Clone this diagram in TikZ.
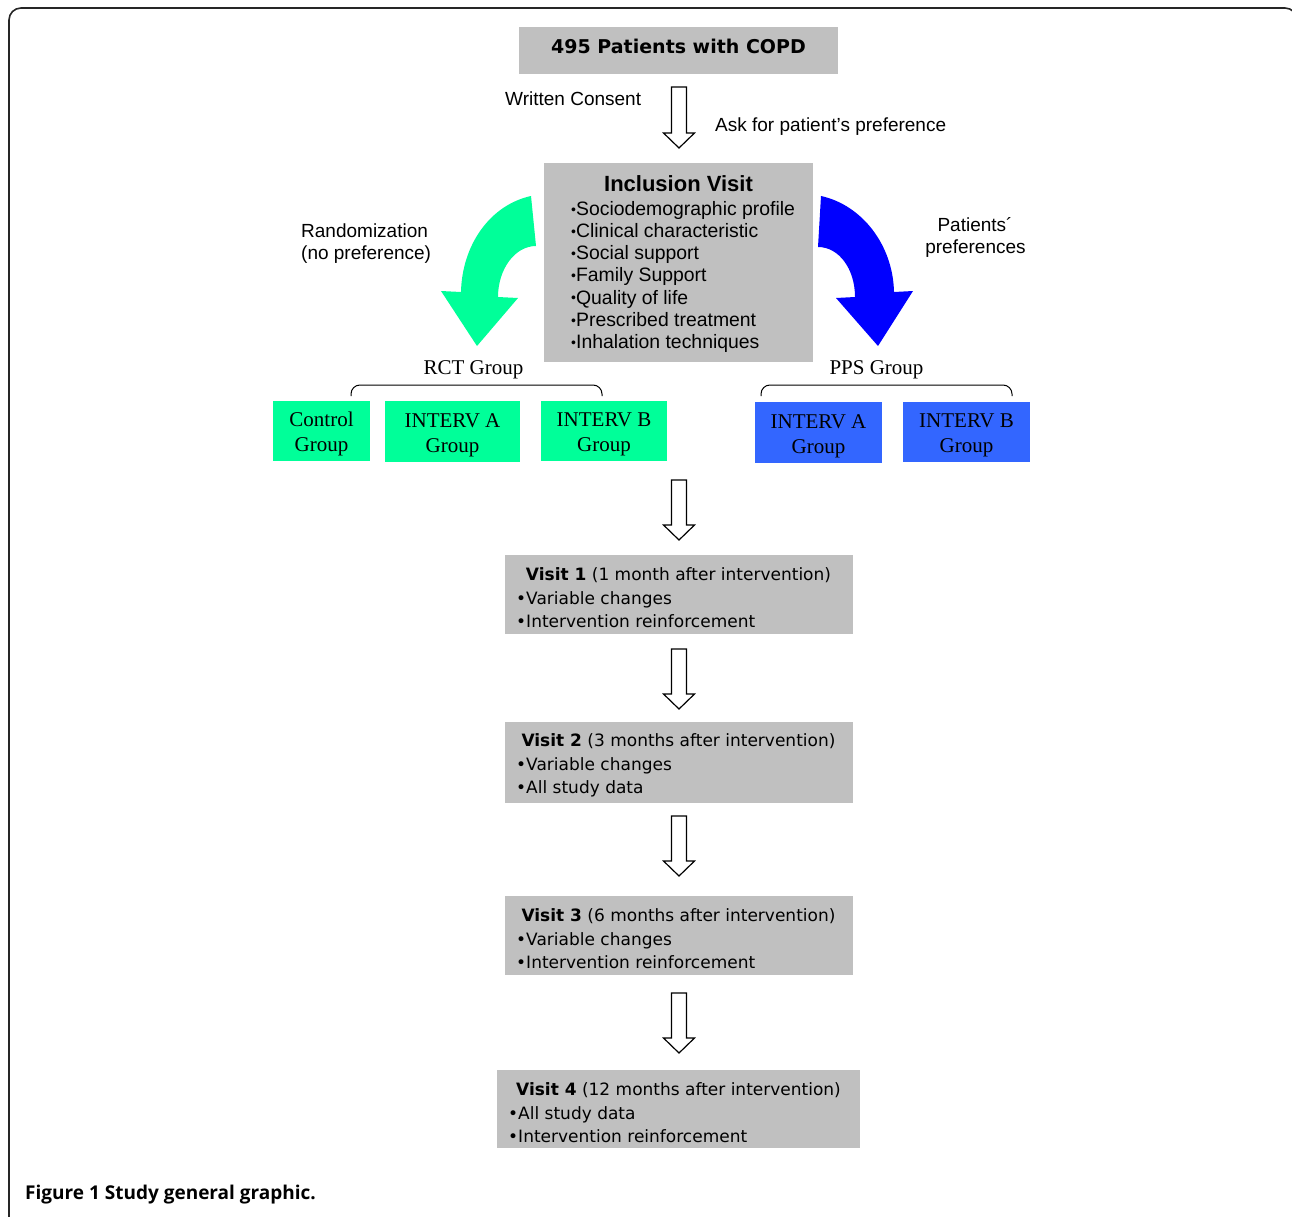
\documentclass[tikz,border=0pt]{standalone}
\usepackage{fontspec}
\setmainfont{Liberation Serif}
\newfontfamily\verd{DejaVu Sans}
\newfontfamily\arialf{Liberation Sans}
\newfontfamily\capfont{Open Sans}
\usetikzlibrary{calc}
\definecolor{boxgray}{RGB}{192,192,192}
\definecolor{rctgreen}{RGB}{0,255,153}
\definecolor{ppsblue}{RGB}{51,102,255}
\definecolor{arrowblue}{RGB}{0,0,255}
\tikzset{
  graybox/.style={fill=boxgray, inner sep=0pt, outer sep=0pt},
  grpbox/.style={inner sep=0pt, align=center, font=\fontsize{21}{25}\selectfont, text=black},
  rctbox/.style={grpbox, fill=rctgreen},
  ppsbox/.style={grpbox, fill=ppsblue},
  vtxt/.style={font=\verd\fontsize{17}{23.5}\selectfont, inner sep=0pt},
  itxt/.style={font=\arialf\fontsize{19.4}{22.2}\selectfont, inner sep=0pt, anchor=base west},
  lbl/.style={font=\arialf\fontsize{19}{22.2}\selectfont, inner sep=0pt},
  tlbl/.style={font=\fontsize{21}{25}\selectfont, inner sep=0pt, anchor=base},
  bracestyle/.style={draw=black, line width=1pt, rounded corners=9pt},
  blockarrow/.style={draw=black, fill=white, line width=1.2pt, line join=miter,
    to path={let \p1=(\tikztostart), \p2=(\tikztotarget) in
      (\x1-7.5pt,\y1) -- (\x1+7.5pt,\y1) -- (\x1+7.5pt,\y2+15pt) -- (\x1+15.5pt,\y2+15pt)
      -- (\x2,\y2) -- (\x1-15.5pt,\y2+15pt) -- (\x1-7.5pt,\y2+15pt) -- cycle}},
}
\newcommand\ibul{{\fontsize{14}{14}\selectfont\raisebox{1.2pt}{•}}}
\newcommand\gstrut{\rule{0pt}{21pt}}
\begin{document}
\begin{tikzpicture}[x=1pt,y=-1pt]
\clip (0,0) rectangle (1292,1217);
% frame
\draw[line width=1.6pt, black!85, rounded corners=12pt] (9,1300) -- (9,8) -- (1297,8) -- (1297,1300);

% top box
\node[graybox, minimum width=319, minimum height=47] (pat) at (678.5,50.5) {};
\node[font=\verd\bfseries\fontsize{19}{22}\selectfont, inner sep=0pt, anchor=base] (pattxt) at (678.5,53.5) {495 Patients with COPD};

\coordinate (a1s) at (679,87); \coordinate (a1e) at (679,148);
\draw[blockarrow] (a1s) to (a1e);
\node[lbl, anchor=base west] (wc) at (505,106) {Written Consent};
\node[lbl, anchor=base west] (ask) at (715,132) {Ask for patient’s preference};

% inclusion visit
\node[graybox, minimum width=269, minimum height=199] (incl) at (678.5,262.5) {};
\node[font=\arialf\bfseries\fontsize{22}{25}\selectfont, inner sep=0pt, anchor=base] (incltitle) at (678.5,191) {Inclusion Visit};
\node[itxt] (i1) at (571,215.3) {\ibul Sociodemographic profile};
\node[itxt] (i2) at (571,237.5) {\ibul Clinical characteristic};
\node[itxt] (i3) at (571,259.7) {\ibul Social support};
\node[itxt] (i4) at (571,281.9) {\ibul Family Support};
\node[itxt] (i5) at (571,304.1) {\ibul Quality of life};
\node[itxt] (i6) at (571,326.3) {\ibul Prescribed treatment};
\node[itxt] (i7) at (571,348.5) {\ibul Inhalation techniques};

% curved arrows
\fill[rctgreen] (531,196) .. controls (490,205) and (462,245) .. (461,292) -- (441,291) -- (477,346) -- (518,298) -- (498,297)
  .. controls (498,269) and (515,246) .. (536,246) -- cycle;
\fill[arrowblue] (821,196) .. controls (862,205) and (893,245) .. (894,292) -- (913,291) -- (878,346) -- (836,298) -- (855,297)
  .. controls (855,269) and (839,247) .. (818,247) -- cycle;
\node[lbl, anchor=base west] (rand) at (301,237) {Randomization};
\node[lbl, anchor=base west] (nopref) at (301,259) {(no preference)};
\node[lbl, anchor=base] (ppref1) at (975,231.5) {Patients´};
\node[lbl, anchor=base] (ppref2) at (975.5,253.5) {preferences};

% groups
\node[tlbl] (rctl) at (473.5,374) {RCT Group};
\node[tlbl] (ppsl) at (876.5,374) {PPS Group};
\draw[bracestyle] (351,396) -- (351,385) -- (602,385) -- (602,396);
\draw[bracestyle] (761,396) -- (761,385) -- (1012,385) -- (1012,396);
\node[rctbox, minimum width=97, minimum height=60] (ctrl) at (321.5,431) {\gstrut Control\\Group};
\node[rctbox, minimum width=135, minimum height=61] (ra) at (452.5,431.5) {\gstrut INTERV A\\Group};
\node[rctbox, minimum width=126, minimum height=60] (rb) at (604,431) {\gstrut INTERV B\\Group};
\node[ppsbox, minimum width=127, minimum height=61] (pa) at (818.5,432.5) {\gstrut INTERV A\\Group};
\node[ppsbox, minimum width=127, minimum height=60] (pb) at (966.5,432) {\gstrut INTERV B\\Group};

\coordinate (a2s) at (679,480); \coordinate (a2e) at (679,540);
\draw[blockarrow] (a2s) to (a2e);

% visit 1
\node[graybox, minimum width=348, minimum height=79] (v1) at (679,594.5) {};
\node[vtxt, anchor=base] (v1a) at (678.5,580.5) {\textbf{Visit 1} (1 month after intervention)};
\node[vtxt, anchor=base west] (v1b) at (516,604) {•Variable changes};
\node[vtxt, anchor=base west] (v1c) at (516,627.5) {•Intervention reinforcement};

\coordinate (a3s) at (679,649); \coordinate (a3e) at (679,709);
\draw[blockarrow] (a3s) to (a3e);

% visit 2
\node[graybox, minimum width=348, minimum height=81] (v2) at (679,762.5) {};
\node[vtxt, anchor=base] (v2a) at (678.5,746.5) {\textbf{Visit 2} (3 months after intervention)};
\node[vtxt, anchor=base west] (v2b) at (516,770) {•Variable changes};
\node[vtxt, anchor=base west] (v2c) at (516,793.5) {•All study data};

\coordinate (a4s) at (679,816); \coordinate (a4e) at (679,876);
\draw[blockarrow] (a4s) to (a4e);

% visit 3
\node[graybox, minimum width=348, minimum height=79] (v3) at (679,935.5) {};
\node[vtxt, anchor=base] (v3a) at (678.5,921.5) {\textbf{Visit 3} (6 months after intervention)};
\node[vtxt, anchor=base west] (v3b) at (516,945) {•Variable changes};
\node[vtxt, anchor=base west] (v3c) at (516,968.5) {•Intervention reinforcement};

\coordinate (a5s) at (679,993); \coordinate (a5e) at (679,1053);
\draw[blockarrow] (a5s) to (a5e);

% visit 4
\node[graybox, minimum width=363, minimum height=78] (v4) at (678.5,1109) {};
\node[vtxt, anchor=base] (v4a) at (678.5,1095.5) {\textbf{Visit 4} (12 months after intervention)};
\node[vtxt, anchor=base west] (v4b) at (508,1119) {•All study data};
\node[vtxt, anchor=base west] (v4c) at (508,1142.5) {•Intervention reinforcement};

% caption
\node[font=\capfont\bfseries\fontsize{19}{22}\selectfont, inner sep=0pt, anchor=base west] (cap) at (25,1199.5) {Figure 1 Study general graphic.};
\end{tikzpicture}
\end{document}
